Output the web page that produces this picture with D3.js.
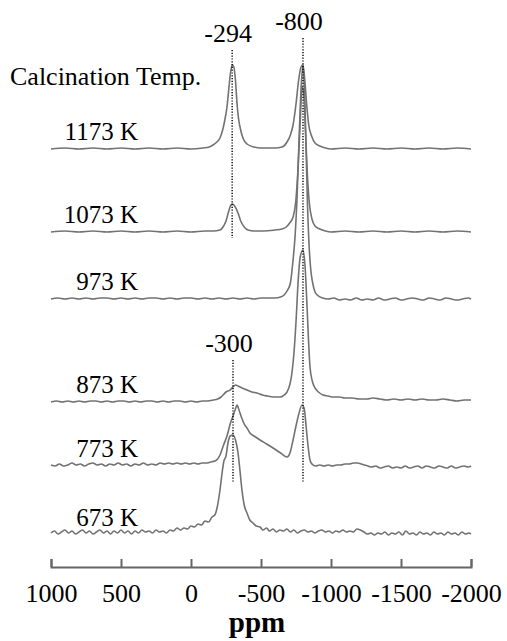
<!DOCTYPE html>
<html>
<head>
<meta charset="utf-8">
<script src="https://cdn.jsdelivr.net/npm/d3@7"></script>
<style>
  body { margin: 0; background: #fff; }
</style>
</head>
<body>
<svg width="507" height="641"></svg>
<script>
// tick labels on the ppm axis
var ticks = [1000, 500, 0, -500, -1000, -1500, -2000];

// calcination temperatures, bottom to top, and where each trace sits
var temps = ["673 K", "773 K", "873 K", "973 K", "1073 K", "1173 K"];
var offsets = [32, 101, 165, 268, 335, 418];

// each trace as [ppm, intensity above its own baseline]
var s673 = [[1000,2],[975,4],[950,1],[925,3],[900,5],[875,2],[850,4],[825,1],[800,3],[775,5],[750,2],[725,4],[700,1],[675,3],[650,5],[625,2],[600,4],[575,1],[550,4],[525,2],[500,5],[475,2],[450,4],[425,1],[400,4],[375,2],[350,5],[325,3],[300,4],[275,2],[250,5],[225,3],[200,4],[175,2],[150,5],[125,4],[100,7],[75,5],[50,7],[25,6],[0,9],[-25,8],[-50,11],[-75,10],[-100,14],[-125,13],[-150,18],[-170,20],[-186,27],[-207,45],[-222,62],[-235,74],[-250,79],[-264,92],[-280,99],[-300,100],[-318,95],[-336,82],[-350,64],[-364,45],[-380,30],[-400,22],[-420,15],[-443,12],[-465,9],[-493,8],[-515,5],[-540,7],[-560,4],[-586,6],[-610,3],[-635,5],[-660,4],[-685,6],[-710,3],[-735,5],[-760,2],[-785,4],[-810,5],[-835,3],[-860,4],[-885,2],[-910,4],[-935,5],[-960,3],[-985,4],[-1010,2],[-1035,4],[-1060,3],[-1085,5],[-1110,3],[-1135,4],[-1160,3],[-1185,6],[-1210,5],[-1235,3],[-1260,1],[-1285,2],[-1310,0],[-1335,2],[-1360,1],[-1385,3],[-1410,0],[-1435,2],[-1460,1],[-1485,3],[-1510,0],[-1535,4],[-1560,1],[-1585,2],[-1610,0],[-1635,3],[-1660,1],[-1685,2],[-1710,0],[-1735,3],[-1760,1],[-1785,2],[-1810,0],[-1835,3],[-1860,1],[-1885,2],[-1910,0],[-1935,3],[-1960,1],[-1985,2],[-2000,1]];
var s773 = [[1000,1],[970,0],[940,2],[910,0],[880,1],[850,3],[820,1],[790,2],[760,0],[730,2],[700,3],[670,1],[640,2],[610,0],[580,2],[550,1],[520,3],[490,1],[460,2],[430,0],[400,2],[370,1],[340,3],[310,1],[280,2],[250,1],[220,3],[190,2],[160,3],[130,2],[100,3],[70,2],[40,3],[10,2],[-20,3],[-50,2],[-80,3],[-110,3],[-140,4],[-170,5],[-190,7],[-207,11],[-230,20],[-257,30],[-280,42],[-300,50],[-315,56],[-329,61],[-345,55],[-360,49],[-380,42],[-400,38],[-421,33],[-450,30],[-493,26],[-540,22],[-586,18],[-640,13],[-686,9],[-707,13],[-729,26],[-750,40],[-770,52],[-793,61],[-808,58],[-822,40],[-836,20],[-850,6],[-864,2],[-890,0],[-920,1],[-950,0],[-980,1],[-1010,0],[-1040,1],[-1070,1],[-1100,2],[-1130,2],[-1160,3],[-1190,3],[-1215,2],[-1240,1],[-1265,0],[-1290,-1],[-1320,0],[-1350,-2],[-1380,-1],[-1410,0],[-1440,-2],[-1470,-1],[-1500,-2],[-1530,0],[-1560,-2],[-1590,-1],[-1620,0],[-1650,-2],[-1680,0],[-1710,-1],[-1740,-2],[-1770,0],[-1800,-1],[-1830,-2],[-1860,0],[-1890,-2],[-1920,-1],[-1950,0],[-1980,-1],[-2000,0]];
var s873 = [[1000,0],[960,1],[920,0],[880,1],[840,0],[800,1],[760,0],[720,1],[680,1],[640,0],[600,1],[560,0],[520,1],[480,1],[440,0],[400,1],[360,0],[320,1],[280,1],[240,0],[200,1],[160,0],[120,1],[80,1],[40,0],[0,1],[-40,0],[-80,1],[-120,1],[-160,2],[-190,3],[-215,5],[-250,10],[-279,12],[-300,15],[-318,17],[-336,16],[-364,14],[-400,12],[-435,10],[-471,9],[-510,7],[-543,6],[-590,5],[-636,5],[-665,7],[-686,10],[-707,18],[-721,29],[-736,50],[-750,80],[-765,120],[-780,145],[-800,152],[-815,135],[-829,95],[-840,60],[-850,35],[-868,20],[-886,14],[-910,10],[-943,7],[-980,6],[-1014,5],[-1060,5],[-1100,4],[-1150,4],[-1200,3],[-1257,3],[-1300,4],[-1350,3],[-1400,2],[-1450,3],[-1500,2],[-1550,3],[-1600,2],[-1650,3],[-1700,2],[-1750,2],[-1800,3],[-1850,2],[-1900,1],[-1950,2],[-2000,2]];
var s973 = [[1000,0],[950,1],[900,0],[850,1],[800,0],[750,1],[700,0],[650,1],[600,1],[550,0],[500,1],[450,0],[400,1],[350,0],[300,1],[250,1],[200,0],[150,1],[100,0],[50,1],[0,1],[-50,0],[-100,1],[-150,0],[-200,1],[-250,0],[-300,1],[-350,0],[-400,1],[-450,0],[-500,1],[-550,1],[-600,1],[-640,2],[-665,4],[-690,9],[-710,16],[-729,39],[-743,62],[-757,100],[-772,160],[-786,210],[-800,234],[-812,205],[-822,150],[-832,95],[-843,55],[-855,30],[-868,17],[-886,7],[-910,3],[-940,1],[-980,0],[-1020,1],[-1060,-1],[-1100,0],[-1140,-1],[-1180,1],[-1220,-1],[-1260,0],[-1300,-1],[-1340,1],[-1380,-1],[-1420,0],[-1460,1],[-1500,-1],[-1540,0],[-1580,1],[-1620,0],[-1660,-1],[-1700,1],[-1740,0],[-1780,-1],[-1820,1],[-1860,0],[-1900,-1],[-1940,0],[-1980,1],[-2000,0]];
var s1073 = [[1000,0],[900,1],[800,0],[700,1],[600,0],[500,1],[400,0],[300,1],[200,0],[100,1],[0,0],[-100,1],[-160,1],[-207,2],[-229,5],[-250,11],[-268,20],[-285,27],[-297,28],[-312,26],[-336,19],[-355,11],[-380,5],[-407,2],[-450,1],[-520,1],[-600,2],[-650,3],[-680,5],[-705,9],[-729,15],[-748,30],[-765,65],[-780,110],[-793,145],[-805,140],[-818,100],[-832,55],[-846,28],[-864,13],[-886,6],[-920,3],[-960,1],[-1000,0],[-1100,1],[-1200,0],[-1300,1],[-1400,0],[-1500,1],[-1600,0],[-1700,1],[-1800,0],[-1900,1],[-2000,0]];
var s1173 = [[1000,0],[900,1],[800,0],[700,1],[600,0],[500,1],[400,0],[300,1],[200,0],[100,1],[0,0],[-86,1],[-130,2],[-157,4],[-185,7],[-207,11],[-228,20],[-243,30],[-257,42],[-270,60],[-282,76],[-294,84],[-306,82],[-318,68],[-329,45],[-340,30],[-350,22],[-371,11],[-400,5],[-450,2],[-500,1],[-600,1],[-650,2],[-686,7],[-710,14],[-729,24],[-750,45],[-768,68],[-786,82],[-800,84],[-812,70],[-826,45],[-840,25],[-864,12],[-886,6],[-920,3],[-960,1],[-1000,0],[-1100,1],[-1200,0],[-1300,1],[-1400,0],[-1500,1],[-1600,0],[-1700,1],[-1800,0],[-1900,1],[-2000,0]];
var spectra = [s673, s773, s873, s973, s1073, s1173];

// dotted peak markers: ppm, label, vertical span in intensity units
var markPpm = [-294, -800, -300];
var markLabel = ["-294", "-800", "-300"];
var markTop = [517, 529, 207];
var markBottom = [329, 85, 85];

var serif = "Liberation Serif, Times New Roman, Times, serif";

var svg = d3.select("svg");

var x = d3.scaleLinear().domain([1000, -2000]).range([51, 471]);
var y = d3.scaleLinear().domain([0, 540]).range([567, 27]);

var line = d3.line()
    .x(function(d) { return x(d[0]); })
    .y(function(d) { return y(d[1]); })
    .curve(d3.curveMonotoneX);

// traces
spectra.forEach(function(s, i) {
    var pts = s.map(function(d) { return [d[0], d[1] + offsets[i]]; });
    svg.append("path")
        .datum(pts)
        .attr("fill", "none")
        .attr("stroke", "#727272")
        .attr("stroke-width", 1.6)
        .attr("stroke-linejoin", "round")
        .attr("d", line);
});

// temperature labels
svg.selectAll(".temp")
    .data(temps)
    .enter().append("text")
    .attr("class", "temp")
    .attr("x", 138)
    .attr("y", function(d, i) { return y(offsets[i]) - 9; })
    .attr("text-anchor", "end")
    .attr("font-family", serif)
    .attr("font-size", 25)
    .text(function(d) { return d; });

svg.append("text")
    .attr("x", 10)
    .attr("y", 85)
    .attr("font-family", serif)
    .attr("font-size", 26)
    .text("Calcination Temp.");

// dotted reference lines
markPpm.forEach(function(p, i) {
    svg.append("line")
        .attr("x1", x(p)).attr("x2", x(p))
        .attr("y1", y(markTop[i])).attr("y2", y(markBottom[i]))
        .attr("stroke", "#000")
        .attr("stroke-width", 1.4)
        .attr("stroke-dasharray", "1.2,1.6");
    svg.append("text")
        .attr("x", x(p) - 4)
        .attr("y", y(markTop[i]) - 8)
        .attr("text-anchor", "middle")
        .attr("font-family", serif)
        .attr("font-size", 26)
        .text(markLabel[i]);
});

// axis
var axis = svg.append("g")
    .attr("transform", "translate(0," + y(0) + ")")
    .call(d3.axisBottom(x).tickValues(ticks).tickSize(-8).tickPadding(17)
        .tickFormat(d3.format("d")))
    .attr("font-family", serif)
    .attr("font-size", 26);
axis.select(".domain").attr("stroke", "#666").attr("stroke-width", 2);
axis.selectAll(".tick line").attr("stroke", "#666").attr("stroke-width", 2);
axis.selectAll(".tick text")
    .text(function(d) { return d < 0 ? "-" + Math.abs(d) : d; });

svg.append("text")
    .attr("x", 257)
    .attr("y", 632)
    .attr("text-anchor", "middle")
    .attr("font-family", serif)
    .attr("font-size", 29)
    .attr("font-weight", "bold")
    .text("ppm");
</script>
</body>
</html>
